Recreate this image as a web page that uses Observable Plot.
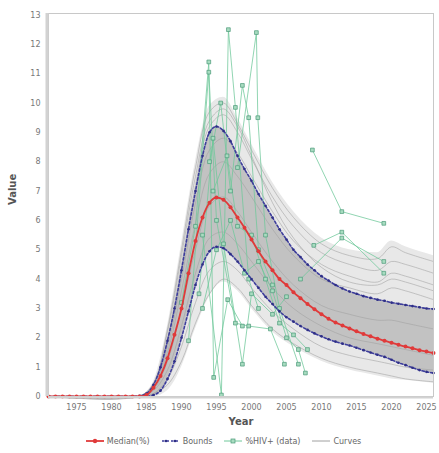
<!DOCTYPE html>
<html><head><meta charset="utf-8">
<script src="https://cdn.jsdelivr.net/npm/d3@7"></script>
<script src="https://cdn.jsdelivr.net/npm/@observablehq/plot@0.6"></script>
<style>
body{margin:0;background:#fff;font-family:"DejaVu Sans",sans-serif;}
#legend{display:flex;justify-content:center;align-items:center;gap:6px;height:18px;font-size:8px;color:#666;padding-left:14px;}
#legend span.it{display:flex;align-items:center;gap:3px;margin-right:6px;}
</style></head><body>
<div id="chart"></div>
<div id="legend"></div>
<script>
// ---- data ----
const years = d3.range(1971, 2027);
const medianVals = [0,0,0,0,0,0,0,0,0,0,0,0,0,0,
  0.05,0.3,0.7,1.3,2.1,3.0,4.2,5.3,6.1,6.6,6.78,6.7,6.45,6.1,5.75,5.35,4.95,4.6,4.3,4.0,3.8,3.55,3.35,3.15,2.97,2.8,2.65,2.52,2.42,2.32,2.22,2.13,2.05,1.97,1.9,1.83,1.76,1.7,1.64,1.58,1.53,1.48];
const upperVals = [0,0,0,0,0,0,0,0,0,0,0,0,0,
  0.02,0.1,0.4,1.0,1.9,3.0,4.3,5.7,7.0,8.2,9.0,9.2,9.05,8.7,8.2,7.75,7.35,6.9,6.5,6.1,5.7,5.35,5.0,4.75,4.5,4.3,4.1,3.95,3.8,3.68,3.58,3.5,3.42,3.36,3.3,3.26,3.2,3.16,3.12,3.08,3.04,3.0,2.98];
const lowerVals = [0,0,0,0,0,0,0,0,0,0,0,0,0,0,0,
  0.05,0.2,0.6,1.2,2.0,2.9,3.8,4.5,4.95,5.1,5.05,4.85,4.6,4.3,4.0,3.7,3.4,3.15,2.9,2.7,2.55,2.4,2.27,2.15,2.05,1.95,1.87,1.8,1.74,1.66,1.58,1.5,1.42,1.35,1.25,1.15,1.07,0.98,0.9,0.84,0.8];

const curveYears = [1971,1984,1986,1988,1990,1992,1994,1996,1998,2000,2003,2006,2010,2014,2018,2020,2022,2026];
const envHigh = [0,0.02,0.5,2.4,5.2,8.0,9.9,10.2,9.5,8.6,7.3,6.3,5.4,5.0,4.9,5.3,5.1,4.8];
const envLow  = [0,0,0,0.2,1.0,2.3,3.4,3.9,3.6,3.0,2.2,1.7,1.2,0.9,0.7,0.6,0.55,0.45];
const curve1 = [0,0.02,0.45,2.3,5.0,7.8,9.7,10.0,9.3,8.4,7.1,6.1,5.2,4.8,4.7,5.1,4.9,4.6];
const curve2 = [0,0.01,0.4,2.0,4.5,7.2,9.2,9.6,9.0,8.1,6.8,5.8,4.9,4.5,4.3,4.6,4.5,4.2];
const curve3 = [0,0.01,0.35,1.7,4.0,6.6,8.4,8.8,8.3,7.5,6.3,5.3,4.5,4.1,3.9,4.2,4.1,3.8];
const curve4 = [0,0,0.3,1.5,3.6,5.9,7.6,8.0,7.5,6.8,5.7,4.8,4.0,3.7,3.5,3.7,3.6,3.3];
const curve5 = [0,0,0.25,1.2,3.0,5.0,6.5,6.8,6.3,5.6,4.6,3.8,3.1,2.8,2.6,2.6,2.5,2.3];
const curve6 = [0,0,0.2,0.9,2.4,4.2,5.4,5.6,5.2,4.6,3.7,3.0,2.4,2.0,1.8,1.7,1.6,1.4];
const curve7 = [0,0,0.1,0.6,1.7,3.2,4.3,4.6,4.3,3.7,2.9,2.3,1.7,1.4,1.2,1.1,1.0,0.9];
const curve8 = [0,0,0.1,0.4,1.2,2.5,3.5,4.0,3.7,3.1,2.3,1.8,1.3,1.0,0.8,0.7,0.6,0.5];
const curve9 = [0,0.01,0.45,2.2,4.8,7.5,9.4,9.8,9.2,8.2,6.6,5.4,4.4,3.9,3.8,4.0,3.9,3.6];

const siteA = [[1990,3.2],[1992,5.8],[1993.9,11.4],[1994.6,0.65],[1996.6,3.3],[1998.7,2.4]];
const siteB = [[1991,1.9],[1993.9,11.05],[1995,6.0],[1997.7,2.5],[1999.6,2.4],[2002.7,2.3],[2004.7,1.1]];
const siteC = [[1993,5.5],[1995.7,0.05],[1996.7,12.5],[1997.7,9.85],[1999.6,4.0],[2001,3.0]];
const siteD = [[1994,8.0],[1995.6,10.0],[1997,7.0],[1998.7,10.6],[1999.6,9.5],[2001,5.0],[2003,3.8]];
const siteE = [[1998,7.8],[2000.7,12.4],[2000.9,9.5],[2002,5.5],[2004,3.0],[2006.7,1.1]];
const siteF = [[1992.5,3.5],[1994.5,8.8],[1996,5.2],[1998.7,1.1],[2000,3.5],[2003,2.8],[2005,3.4]];
const siteG = [[1993,3.0],[1995,5.0],[1997,6.0],[1999,4.2],[2001,4.6],[2003,3.6],[2005,2.0],[2006.7,1.6],[2007.7,0.8]];
const siteH = [[1994.5,7.0],[1996.5,8.2],[1998,5.8],[2000,5.5],[2002,4.0],[2004,2.5],[2006,2.1],[2008,1.6]];
const siteI = [[2008.7,8.4],[2012.9,6.3],[2018.9,5.9]];
const siteJ = [[2008.9,5.15],[2012.9,5.6],[2018.9,4.2]];
const siteK = [[2007,4.0],[2012.9,5.4],[2018.9,4.6]];

const xTicks = [1975,1980,1985,1990,1995,2000,2005,2010,2015,2020,2025];
const yTicks = [0,1,2,3,4,5,6,7,8,9,10,11,12,13];
const legendLabels = ["Median(%)","Bounds","%HIV+ (data)","Curves"];

// ---- tables ----
const series = years.map((y,i)=>({year:y, median:medianVals[i], upper:upperVals[i], lower:lowerVals[i]}));
const env = curveYears.map((y,i)=>({year:y, hi:envHigh[i], lo:envLow[i]}));
const curves = [curve1,curve2,curve3,curve4,curve5,curve6,curve7,curve8,curve9]
  .flatMap((c,k)=>c.map((v,i)=>({id:k, year:curveYears[i], value:v})));
const sites = {A:siteA,B:siteB,C:siteC,D:siteD,E:siteE,F:siteF,G:siteG,H:siteH,I:siteI,J:siteJ,K:siteK};
const siteRows = Object.entries(sites).flatMap(([s,arr])=>arr.map(([y,v])=>({site:s, year:y, value:v})));

const RED="#e03a3a", BLUE="#3d3d9c", GREEN="#6fc89a", GREENDK="#4a9a78", GRAY="#a0a0a0";

const chart = Plot.plot({
  width:439, height:432,
  marginLeft:48, marginRight:6, marginTop:13, marginBottom:36,
  style:{fontFamily:"DejaVu Sans, sans-serif", fontSize:"8px", color:"#777", background:"#fff"},
  x:{domain:[1971,2026]},
  y:{domain:[0,13.05]},
  marks:[
    Plot.areaY(env,{x:"year", y1:"lo", y2:"hi", fill:"#e8e8e8", curve:"monotone-x"}),
    Plot.areaY(series,{x:"year", y1:"lower", y2:"upper", fill:"#b8b8b8", fillOpacity:0.8, curve:"monotone-x"}),
    Plot.line(curves,{x:"year", y:"value", z:"id", stroke:GRAY, strokeWidth:0.7, strokeOpacity:0.8, curve:"catmull-rom"}),
    Plot.line(siteRows,{x:"year", y:"value", z:"site", stroke:GREEN, strokeWidth:0.9, strokeOpacity:0.85}),
    Plot.dot(siteRows,{x:"year", y:"value", symbol:"square", r:2.1, fill:"#a8dcc0", stroke:GREENDK, strokeWidth:0.7}),
    Plot.line(series,{x:"year", y:"upper", stroke:BLUE, strokeWidth:1.6, strokeDasharray:"2.5,2", curve:"monotone-x"}),
    Plot.line(series,{x:"year", y:"lower", stroke:BLUE, strokeWidth:1.6, strokeDasharray:"2.5,2", curve:"monotone-x"}),
    Plot.dot(series,{x:"year", y:"upper", r:1.3, fill:"#2e2e86"}),
    Plot.dot(series,{x:"year", y:"lower", r:1.3, fill:"#2e2e86"}),
    Plot.line(series,{x:"year", y:"median", stroke:RED, strokeWidth:1.8, curve:"monotone-x"}),
    Plot.dot(series,{x:"year", y:"median", r:2, fill:RED}),
    Plot.frame({stroke:"#c8c8c8"}),
    Plot.ruleX([1971],{stroke:"#d2d2d2", strokeWidth:3, dx:-1.5}),
    Plot.ruleY([0],{stroke:"#d2d2d2", strokeWidth:2, dy:1}),
    Plot.axisX({ticks:xTicks, tickFormat:d=>String(d), tickSize:0, tickPadding:8, label:null, fill:"#777"}),
    Plot.axisY({ticks:yTicks, tickSize:0, tickPadding:8, label:null, fill:"#777"}),
    Plot.text(["Year"],{frameAnchor:"bottom", dy:28, fontWeight:"bold", fontSize:10, fill:"#555"}),
    Plot.text(["Value"],{frameAnchor:"left", dx:-36, rotate:-90, fontWeight:"bold", fontSize:10, fill:"#555"})
  ]
});
document.getElementById("chart").append(chart);

// ---- legend ----
const swatches = [
  `<svg width="18" height="8"><line x1="0" y1="4" x2="18" y2="4" stroke="${RED}" stroke-width="1.8"/><circle cx="9" cy="4" r="2.2" fill="${RED}"/></svg>`,
  `<svg width="18" height="8"><line x1="0" y1="4" x2="18" y2="4" stroke="${BLUE}" stroke-width="1.4" stroke-dasharray="2.5,2"/><circle cx="4" cy="4" r="1.3" fill="#2e2e86"/><circle cx="13" cy="4" r="1.3" fill="#2e2e86"/></svg>`,
  `<svg width="18" height="8"><line x1="0" y1="4" x2="18" y2="4" stroke="${GREEN}" stroke-width="1"/><rect x="7" y="2" width="4" height="4" fill="#a8dcc0" stroke="${GREENDK}" stroke-width="0.7"/></svg>`,
  `<svg width="18" height="8"><line x1="0" y1="4" x2="18" y2="4" stroke="${GRAY}" stroke-width="1"/></svg>`
];
document.getElementById("legend").innerHTML = legendLabels.map((l,i)=>`<span class="it">${swatches[i]}<span>${l}</span></span>`).join("");
</script>
</body></html>
